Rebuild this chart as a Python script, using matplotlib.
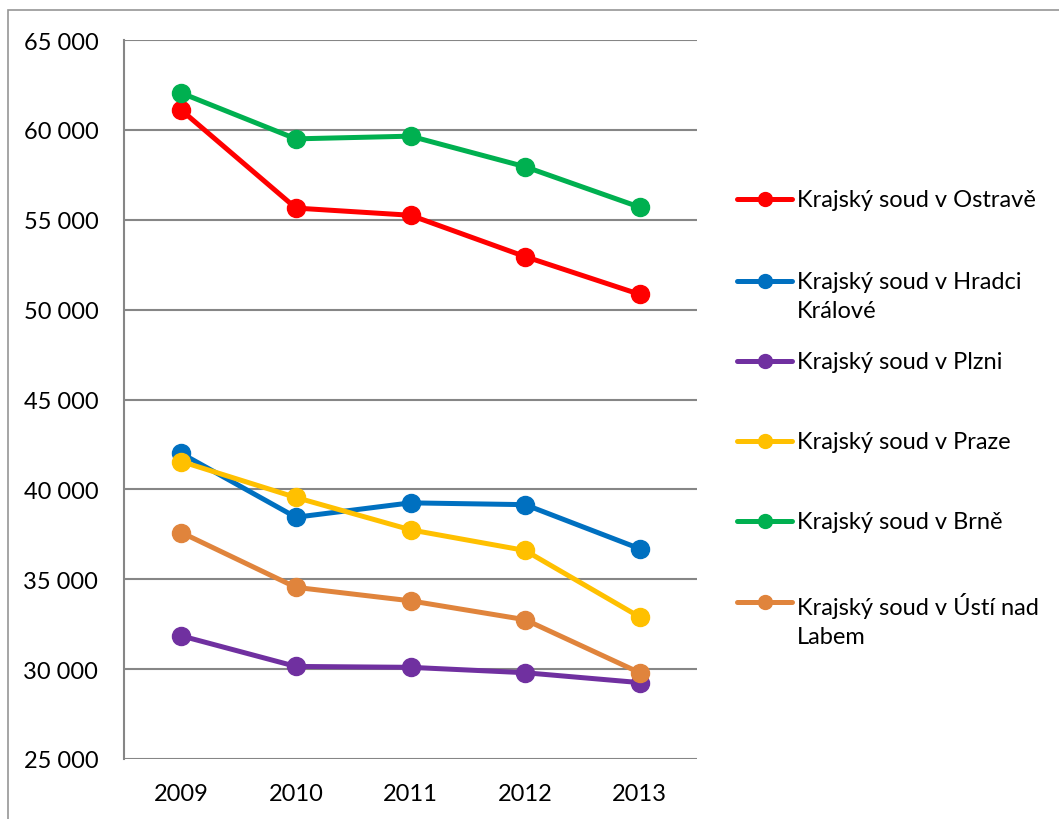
import matplotlib.pyplot as plt
from matplotlib.lines import Line2D
from matplotlib.patches import Rectangle
from matplotlib.ticker import FuncFormatter

plt.rcParams['font.family'] = ['Lato', 'DejaVu Sans']

years = ['2009', '2010', '2011', '2012', '2013']

ostrava = [61100, 55650, 55250, 52950, 50850]
hradec = [42000, 38450, 39250, 39150, 36700]
plzen = [31850, 30150, 30100, 29800, 29250]
praha = [41550, 39550, 37750, 36600, 32900]
brno = [62050, 59500, 59650, 57950, 55700]
usti = [37600, 34550, 33800, 32750, 29800]

labels = ['Krajský soud v Ostravě', 'Krajský soud v Hradci\nKrálové',
          'Krajský soud v Plzni', 'Krajský soud v Praze',
          'Krajský soud v Brně', 'Krajský soud v Ústí nad\nLabem']
series = [ostrava, hradec, plzen, praha, brno, usti]
colors = ['#ff0000', '#0070c0', '#7030a0', '#ffc000', '#00b050', '#e0843c']

fig = plt.figure(figsize=(10.59, 8.2), dpi=100)
fig.patches.append(Rectangle((8 / 1059, -0.1), 1.2, 1 - 11 / 820 + 0.1,
                             transform=fig.transFigure, fill=False,
                             edgecolor='#969696', linewidth=1.2))

ax = fig.add_axes([124 / 1059, 1 - 760 / 820, (697 - 124) / 1059, (760 - 41) / 820])

x = list(range(len(years)))
for i in range(len(series)):
    ax.plot(x, series[i], color=colors[i], linewidth=3.6, marker='o',
            markersize=13, solid_capstyle='round', zorder=3)

ax.set_xlim(-0.5, 4.5)
ax.set_ylim(25000, 65000)
ax.set_yticks(range(25000, 65001, 5000))
ax.yaxis.set_major_formatter(FuncFormatter(lambda v, p: f'{int(v):,}'.replace(',', ' ')))
ax.set_xticks(x)
ax.set_xticklabels(years)
ax.grid(axis='y', color='#868686', linewidth=1.5)
ax.set_axisbelow(True)
for s in ['top', 'right', 'bottom']:
    ax.spines[s].set_visible(False)
ax.spines['left'].set_color('#868686')
ax.spines['left'].set_linewidth(1.5)
ax.tick_params(axis='both', length=0, labelsize=17)
ax.tick_params(axis='y', pad=18.5)
ax.tick_params(axis='x', pad=17.5)

# legend drawn by hand so the marker sits on the first text line
leg_y = [200, 282, 362, 442, 522, 603]
for i, lab in enumerate(labels):
    yy = 1 - leg_y[i] / 820
    fig.add_artist(Line2D([737 / 1059, 792 / 1059], [yy, yy], color=colors[i],
                          linewidth=3.6, solid_capstyle='round',
                          transform=fig.transFigure))
    fig.add_artist(Line2D([764.5 / 1059], [yy], color=colors[i], marker='o',
                          markersize=10, transform=fig.transFigure))
    fig.text(797 / 1059, yy + 10 / 820, lab, fontsize=17, va='top', ha='left',
             linespacing=1.5)

fig.savefig('out.png', dpi=100)
